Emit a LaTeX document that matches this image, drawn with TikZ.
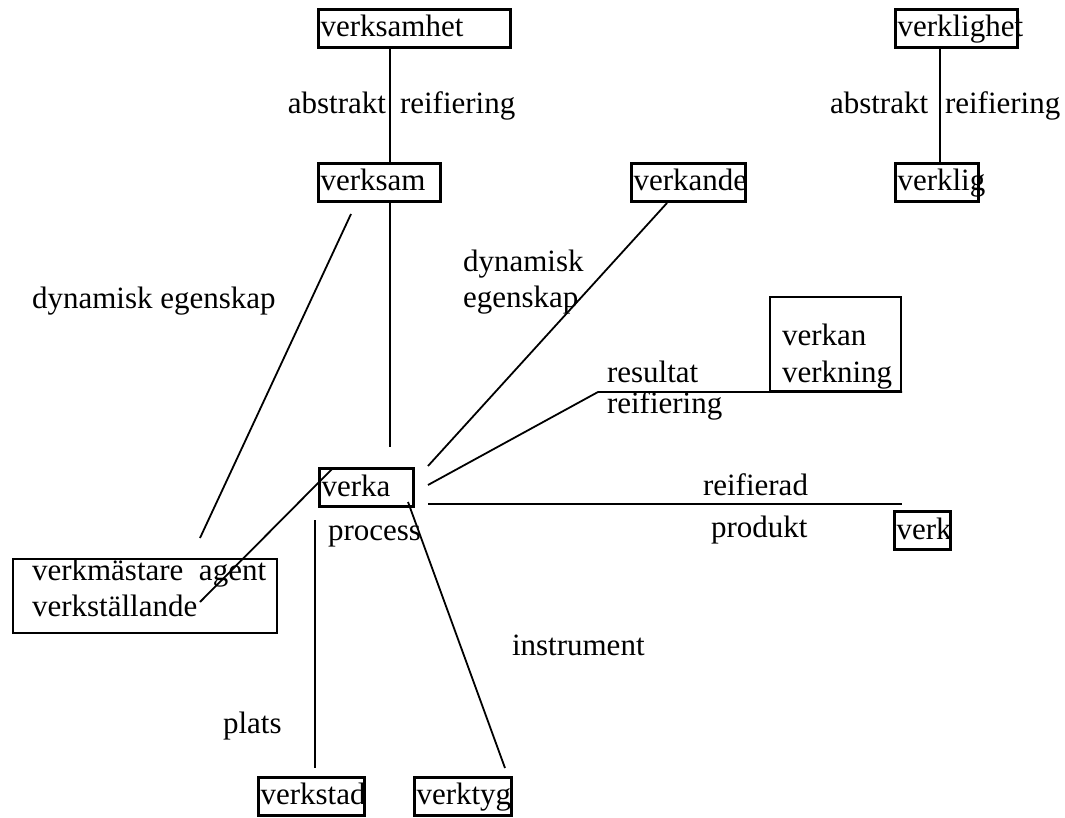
\documentclass[tikz,border=0pt]{standalone}
\usepackage{fontspec}
\setmainfont{Liberation Serif}
\newlength{\du}
\setlength{\du}{1pt}
\tikzset{
  box/.style={draw=dialinecolor, line width=3\du, inner xsep=2\du, inner ysep=0pt,
    minimum height=38\du, text height=22\du, text depth=5\du, align=left},
  bigbox/.style={draw=dialinecolor, line width=2\du, inner sep=0pt},
  lbl/.style={inner sep=0pt, outer sep=0pt, color=dialinecolor},
  conn/.style={draw=dialinecolor, line width=1.8\du}
}
\begin{document}
\begin{tikzpicture}
\pgftransformxscale{1.000000}
\pgftransformyscale{-1.000000}
\definecolor{dialinecolor}{rgb}{0.000000, 0.000000, 0.000000}
\fontsize{31}{36}\selectfont
\useasboundingbox (0\du,0\du) rectangle (1065\du,818\du);
% boxes
\node[box, text width=188\du] (verksamhet) at (414.5\du,28.5\du) {verksamhet};
\node[box, text width=118\du] (verksam) at (379.5\du,182.5\du) {verksam};
\node[box, text width=110\du] (verkande) at (688.5\du,182.5\du) {verkande};
\node[box, text width=118\du] (verklighet) at (956.5\du,28.5\du) {verklighet};
\node[box, text width=79\du] (verklig) at (937\du,182.5\du) {verklig};
\node[box, text width=90\du] (verka) at (366.5\du,487.5\du) {verka};
\node[box, text width=52\du] (verk) at (922.5\du,530.5\du) {verk};
\node[box, text width=102\du] (verkstad) at (311.5\du,796\du) {verkstad};
\node[box, text width=93\du] (verktyg) at (463\du,796\du) {verktyg};
\node[bigbox, minimum width=264\du, minimum height=74\du] (agent) at (145\du,596\du) {};
\node[bigbox, minimum width=131\du, minimum height=94\du] (verkan) at (835.5\du,344\du) {};
% texts in the big boxes
\node[lbl, anchor=base west] (agent1) at (32\du,580\du) {verkmästare\ \ agent};
\node[lbl, anchor=base west] (agent2) at (32\du,616\du) {verkställande};
\node[lbl, anchor=base west] (verkan1) at (782\du,345\du) {verkan};
\node[lbl, anchor=base west] (verkan2) at (782\du,382\du) {verkning};
% labels
\node[lbl, anchor=base east] (abstr1) at (386\du,114\du) {abstrakt};
\node[lbl, anchor=base west] (reif1) at (400\du,114\du) {reifiering};
\node[lbl, anchor=base west] (abstr2) at (830\du,114\du) {abstrakt};
\node[lbl, anchor=base west] (reif2) at (945\du,114\du) {reifiering};
\node[lbl, anchor=base west] (dynegen) at (32\du,308\du) {dynamisk egenskap};
\node[lbl, anchor=base west] (dyn) at (463\du,272\du) {dynamisk};
\node[lbl, anchor=base west] (egen) at (463\du,307\du) {egenskap};
\node[lbl, anchor=base west] (result) at (607\du,382\du) {resultat};
\node[lbl, anchor=base west] (reif3) at (607\du,413\du) {reifiering};
\node[lbl, anchor=base west] (reifad) at (703\du,495\du) {reifierad};
\node[lbl, anchor=base west] (produkt) at (711\du,537\du) {produkt};
\node[lbl, anchor=base west] (process) at (328\du,540\du) {process};
\node[lbl, anchor=base west] (instr) at (512\du,655\du) {instrument};
\node[lbl, anchor=base west] (plats) at (223\du,733\du) {plats};
% free ends
\coordinate (verkaTop) at (390\du,447\du);
\coordinate (egTop) at (351\du,214\du);
\coordinate (egBot) at (200\du,538\du);
\coordinate (agentEnd) at (200\du,602\du);
\coordinate (agentTop) at (333\du,468\du);
\coordinate (dynEnd) at (428\du,466\du);
\coordinate (resEnd) at (428\du,485\du);
\coordinate (resBend) at (598\du,392\du);
\coordinate (prodStart) at (428\du,504\du);
\coordinate (prodEnd) at (902\du,504\du);
\coordinate (platsTop) at (315\du,520\du);
\coordinate (platsEnd) at (315\du,768\du);
\coordinate (toolStart) at (408\du,502\du);
\coordinate (toolEnd) at (505\du,768\du);
% connectors
\draw[conn] ([xshift=-24.5\du]verksamhet.south) -- ([xshift=10.5\du]verksam.north);
\draw[conn] ([xshift=-16.5\du]verklighet.south) -- ([xshift=3\du]verklig.north);
\draw[conn] ([xshift=10.5\du]verksam.south) -- (verkaTop);
\draw[conn] (egTop) -- (egBot);
\draw[conn] (agentEnd) -- (agentTop);
\draw[conn] ([xshift=-21.5\du]verkande.south) -- (dynEnd);
\draw[conn] (resEnd) -- (resBend) -- (verkan.south east);
\draw[conn] (prodStart) -- (prodEnd);
\draw[conn] (platsTop) -- (platsEnd);
\draw[conn] (toolStart) -- (toolEnd);
\end{tikzpicture}
\end{document}
